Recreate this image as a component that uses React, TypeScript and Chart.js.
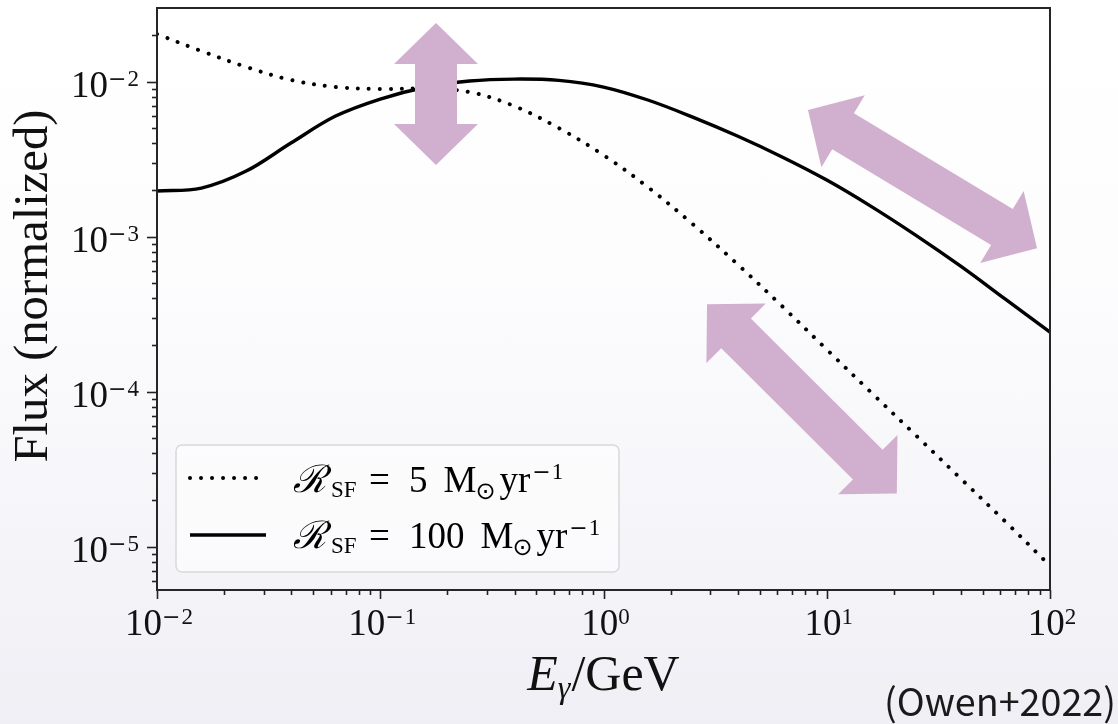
import React, { useEffect, useRef } from 'react';
import { Chart, registerables } from 'chart.js';

Chart.register(...registerables);

// ---- data ----
const energyGeV = [0.01, 0.0158, 0.0251, 0.0398, 0.0631, 0.1, 0.158, 0.251, 0.398, 0.631, 1, 1.58, 2.51, 3.98, 6.31, 10, 15.8, 25.1, 39.8, 63.1, 100];
const flux5 = [0.0203, 0.01578, 0.01245, 0.01026, 0.00924, 0.00897, 0.00903, 0.00858, 0.00697, 0.00502, 0.00336, 0.00209, 0.001205, 0.000665, 0.000356, 0.000187, 0.0000989, 0.0000522, 0.0000275, 0.0000145, 0.00000753];
const flux100 = [0.00197, 0.00206, 0.00265, 0.00402, 0.006, 0.00773, 0.00918, 0.0101, 0.0104, 0.0102, 0.00924, 0.00762, 0.00591, 0.00446, 0.00327, 0.00232, 0.00157, 0.00102, 0.000645, 0.000395, 0.000242];

const seriesLabels = ['5', '100'];

const xMajorTicks = [0.01, 0.1, 1, 10, 100];
const xTickExponents = ['−2', '−1', '0', '1', '2'];
const yMajorTicks = [1e-5, 1e-4, 1e-3, 1e-2];
const yTickExponents = ['−5', '−4', '−3', '−2'];

// annotation arrows (data coordinates: start/end energy and flux)
const arrowStartE = [0.1777, 8.24, 2.909];
const arrowStartF = [0.02393, 0.00656, 0.000366];
const arrowEndE = [0.1777, 87.5, 20.6];
const arrowEndF = [0.002897, 0.000843, 0.000022];

const SERIF = "'Liberation Serif', 'Times New Roman', serif";
const ARROW_COLOR = '#d1b0cf';

type Run = { t: string; f: string; dy?: number; gap?: number };

function drawRuns(ctx: CanvasRenderingContext2D, runs: Run[], x: number, y: number, align: 'left' | 'right' | 'center') {
  const widths = runs.map((r) => {
    ctx.font = r.f;
    return ctx.measureText(r.t).width + (r.gap || 0);
  });
  const total = widths.reduce((a, b) => a + b, 0);
  let cx = align === 'right' ? x - total : align === 'center' ? x - total / 2 : x;
  ctx.textAlign = 'left';
  ctx.textBaseline = 'alphabetic';
  runs.forEach((r, i) => {
    ctx.font = r.f;
    ctx.fillText(r.t, cx, y + (r.dy || 0));
    cx += widths[i];
  });
  return total;
}

function expRuns(exp: string): Run[] {
  const runs: Run[] = [{ t: '10', f: `37px ${SERIF}` }];
  if (exp.startsWith('−')) {
    runs.push({ t: '−', f: `22px 'DejaVu Serif'`, dy: -11, gap: 1 });
    runs.push({ t: exp.slice(1), f: `23px ${SERIF}`, dy: -11 });
  } else {
    runs.push({ t: exp, f: `23px ${SERIF}`, dy: -11 });
  }
  return runs;
}

const overlayPlugin = {
  id: 'overlay',
  afterDatasetsDraw(chart: any) {
    const ctx: CanvasRenderingContext2D = chart.ctx;
    const xs = chart.scales.x;
    const ys = chart.scales.y;
    ctx.save();
    ctx.fillStyle = ARROW_COLOR;
    const s = 21, h = 42, hl = 41;
    for (let i = 0; i < arrowStartE.length; i++) {
      const x1 = xs.getPixelForValue(arrowStartE[i]);
      const y1 = ys.getPixelForValue(arrowStartF[i]);
      const x2 = xs.getPixelForValue(arrowEndE[i]);
      const y2 = ys.getPixelForValue(arrowEndF[i]);
      const L = Math.hypot(x2 - x1, y2 - y1);
      const ux = (x2 - x1) / L, uy = (y2 - y1) / L;
      const nx = -uy, ny = ux;
      const pts: [number, number][] = [
        [x1, y1],
        [x1 + ux * hl + nx * h, y1 + uy * hl + ny * h],
        [x1 + ux * hl + nx * s, y1 + uy * hl + ny * s],
        [x2 - ux * hl + nx * s, y2 - uy * hl + ny * s],
        [x2 - ux * hl + nx * h, y2 - uy * hl + ny * h],
        [x2, y2],
        [x2 - ux * hl - nx * h, y2 - uy * hl - ny * h],
        [x2 - ux * hl - nx * s, y2 - uy * hl - ny * s],
        [x1 + ux * hl - nx * s, y1 + uy * hl - ny * s],
        [x1 + ux * hl - nx * h, y1 + uy * hl - ny * h],
      ];
      ctx.beginPath();
      pts.forEach(([px, py], k) => (k === 0 ? ctx.moveTo(px, py) : ctx.lineTo(px, py)));
      ctx.closePath();
      ctx.fill();
    }
    ctx.restore();
  },
  afterDraw(chart: any) {
    const ctx: CanvasRenderingContext2D = chart.ctx;
    const xs = chart.scales.x;
    const ys = chart.scales.y;
    const { left, right, top, bottom } = chart.chartArea;
    ctx.save();

    // spines
    ctx.strokeStyle = '#262626';
    ctx.lineWidth = 2;
    ctx.strokeRect(left, top, right - left, bottom - top);

    // ticks
    ctx.lineWidth = 1.6;
    ctx.strokeStyle = '#222';
    const yMin = ys.min, yMax = ys.max;
    for (let e = -7; e <= 0; e++) {
      for (let k = 1; k <= 9; k++) {
        const v = k * Math.pow(10, e);
        if (v < yMin * 0.999 || v > yMax * 1.001) continue;
        const py = Math.round(ys.getPixelForValue(v)) + 0.5;
        const len = k === 1 ? 10 : 5;
        ctx.beginPath();
        ctx.moveTo(left - len, py);
        ctx.lineTo(left, py);
        ctx.stroke();
      }
    }
    for (let e = -2; e <= 2; e++) {
      for (let k = 1; k <= 9; k++) {
        const v = k * Math.pow(10, e);
        if (v < xs.min * 0.999 || v > xs.max * 1.001) continue;
        const px = Math.round(xs.getPixelForValue(v)) + 0.5;
        const len = k === 1 ? 9 : 5;
        ctx.beginPath();
        ctx.moveTo(px, bottom);
        ctx.lineTo(px, bottom + len);
        ctx.stroke();
      }
    }

    // tick labels
    ctx.fillStyle = '#111';
    yMajorTicks.forEach((v, i) => {
      const py = ys.getPixelForValue(v);
      drawRuns(ctx, expRuns(yTickExponents[i]), 139, py + 15, 'right');
    });
    xMajorTicks.forEach((v, i) => {
      const px = xs.getPixelForValue(v);
      drawRuns(ctx, expRuns(xTickExponents[i]), px + 2, 635, 'center');
    });

    // x title
    drawRuns(
      ctx,
      [
        { t: 'E', f: `italic 50px ${SERIF}` },
        { t: 'γ', f: `italic 32px ${SERIF}`, dy: 8, gap: 1 },
        { t: '/GeV', f: `50px ${SERIF}` },
      ],
      (left + right) / 2,
      690,
      'center'
    );

    // y title
    ctx.save();
    ctx.translate(47, 286);
    ctx.rotate(-Math.PI / 2);
    ctx.font = `48px ${SERIF}`;
    const yt = 'Flux (normalized)';
    const w = ctx.measureText(yt).width;
    ctx.scale(353 / w, 1);
    ctx.textAlign = 'center';
    ctx.textBaseline = 'alphabetic';
    ctx.fillText(yt, 0, 0);
    ctx.restore();

    // legend
    const lx = 176, ly = 445, lw = 443, lh = 127, r = 6;
    ctx.beginPath();
    ctx.moveTo(lx + r, ly);
    ctx.arcTo(lx + lw, ly, lx + lw, ly + lh, r);
    ctx.arcTo(lx + lw, ly + lh, lx, ly + lh, r);
    ctx.arcTo(lx, ly + lh, lx, ly, r);
    ctx.arcTo(lx, ly, lx + lw, ly, r);
    ctx.closePath();
    ctx.fillStyle = 'rgba(255,255,255,0.55)';
    ctx.fill();
    ctx.strokeStyle = '#d9d9d9';
    ctx.lineWidth = 1.5;
    ctx.stroke();

    const rows = [478, 535];
    const baselines = [492, 548];
    chart.data.datasets.forEach((ds: any, i: number) => {
      ctx.save();
      ctx.strokeStyle = '#000';
      ctx.lineWidth = ds.borderWidth;
      ctx.lineCap = ds.borderCapStyle || 'butt';
      ctx.setLineDash(ds.borderDash || []);
      ctx.beginPath();
      ctx.moveTo(190, rows[i]);
      ctx.lineTo(266, rows[i]);
      ctx.stroke();
      ctx.restore();

      ctx.fillStyle = '#000';
      const b = baselines[i];
      ctx.textAlign = 'left';
      ctx.textBaseline = 'alphabetic';
      ctx.font = `italic 38px 'DejaVu Serif', ${SERIF}`;
      ctx.fillText('ℛ', 293, b);
      ctx.font = `23px ${SERIF}`;
      ctx.fillText('SF', 331, b + 5);
      ctx.font = `37px ${SERIF}`;
      ctx.fillText('=', 369, b);
      ctx.fillText(seriesLabels[i], 409, b);
      let cx = 409 + ctx.measureText(seriesLabels[i]).width + 16;
      ctx.fillText('M', cx, b);
      cx += ctx.measureText('M').width;
      ctx.font = `24px 'DejaVu Sans'`;
      ctx.fillText('⊙', cx - 1, b + 7);
      cx += ctx.measureText('⊙').width + 3;
      ctx.font = `37px ${SERIF}`;
      ctx.fillText('yr', cx, b);
      cx += ctx.measureText('yr').width + 2;
      drawRuns(
        ctx,
        [
          { t: '−', f: `22px 'DejaVu Serif'`, dy: -13, gap: 1 },
          { t: '1', f: `23px ${SERIF}`, dy: -13 },
        ],
        cx,
        b,
        'left'
      );
    });

    // credit
    ctx.save();
    ctx.fillStyle = '#1a1a1a';
    ctx.font = `38px 'Noto Sans CJK JP', 'Noto Sans', sans-serif`;
    const ct = '(Owen+2022)';
    const cw = ctx.measureText(ct).width;
    ctx.translate(1116, 716);
    ctx.scale(232 / cw, 1);
    ctx.textAlign = 'right';
    ctx.textBaseline = 'alphabetic';
    ctx.fillText(ct, 0, 0);
    ctx.restore();

    ctx.restore();
  },
};

export default function App() {
  const canvasRef = useRef<HTMLCanvasElement | null>(null);

  useEffect(() => {
    if (!canvasRef.current) return;
    const chart = new Chart(canvasRef.current, {
      type: 'line',
      data: {
        datasets: [
          {
            label: 'R_SF = 5 M_sun yr^-1',
            data: energyGeV.map((e, i) => ({ x: e, y: flux5[i] })),
            borderColor: '#000',
            borderWidth: 4,
            borderDash: [0.01, 11],
            borderCapStyle: 'round',
            pointRadius: 0,
            tension: 0.35,
            fill: false,
          },
          {
            label: 'R_SF = 100 M_sun yr^-1',
            data: energyGeV.map((e, i) => ({ x: e, y: flux100[i] })),
            borderColor: '#000',
            borderWidth: 3.4,
            pointRadius: 0,
            tension: 0.35,
            fill: false,
          },
        ],
      },
      options: {
        animation: false,
        responsive: false,
        devicePixelRatio: 1,
        layout: { padding: { left: 157, right: 68, top: 8, bottom: 134 } },
        scales: {
          x: { type: 'logarithmic', min: 0.01, max: 100, display: false },
          y: { type: 'logarithmic', min: 5.25e-6, max: 0.0299, display: false },
        },
        plugins: {
          legend: { display: false },
          tooltip: { enabled: false },
        },
        events: [],
      },
      plugins: [overlayPlugin],
    } as any);
    return () => chart.destroy();
  }, []);

  return (
    <div
      style={{
        position: 'fixed',
        left: 0,
        top: 0,
        width: 1118,
        height: 724,
        background: 'linear-gradient(180deg, #ffffff 0%, #fdfdfe 35%, #f0eff5 100%)',
      }}
    >
      <canvas ref={canvasRef} width={1118} height={724} style={{ display: 'block' }} />
    </div>
  );
}
